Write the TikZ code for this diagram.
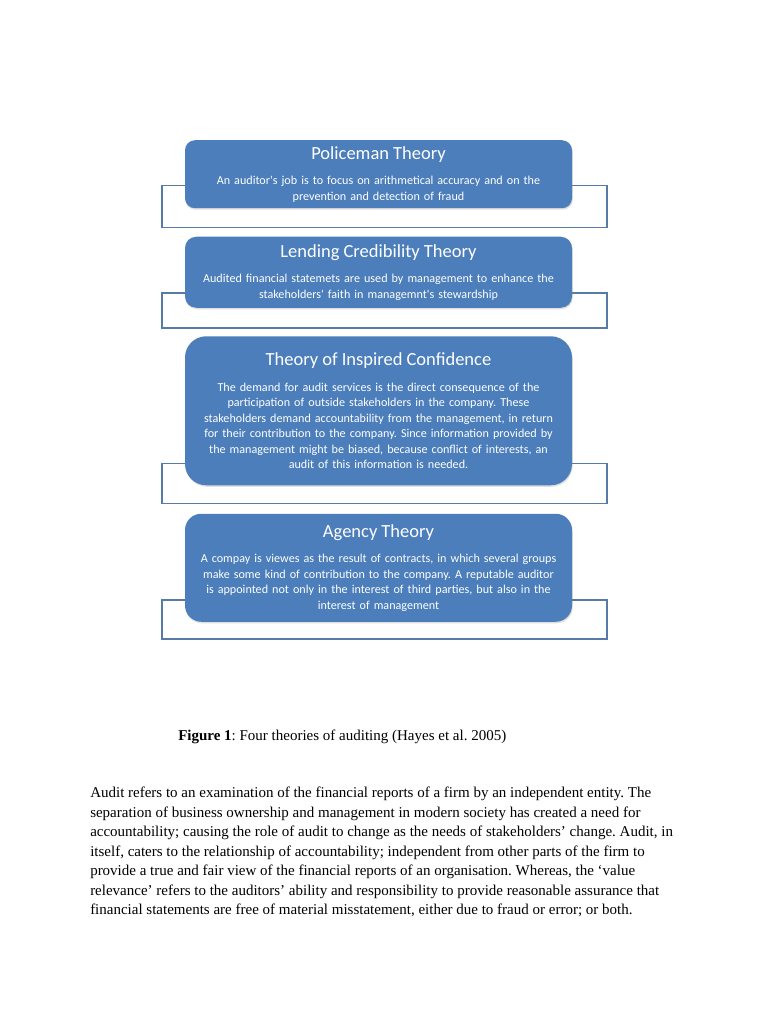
\documentclass[tikz,border=0pt]{standalone}
\usepackage{fontspec}
\setmainfont{Liberation Serif}
\newfontfamily\boxfont{Carlito}
\usetikzlibrary{positioning,calc,shadows}
\frenchspacing

\definecolor{theoryblue}{RGB}{75,126,187}
\definecolor{framegray}{RGB}{88,122,166}

\newcommand{\thtitle}[1]{{\fontsize{14.8}{16}\selectfont #1\par}\vspace{7.8pt}}

\begin{document}
\begin{tikzpicture}[
    x=0.8pt, y=-0.8pt,
    theory/.style={fill=theoryblue, text=white, align=center, text width=300pt,
        inner xsep=4.8pt, inner ysep=0pt,
        font=\boxfont\fontsize{9.7}{12.4}\selectfont,
        drop shadow={opacity=0.25, shadow xshift=0.6pt, shadow yshift=-1.2pt}},
    frame/.style={draw=framegray, line width=1.2pt},
    bodytext/.style={align=left, inner sep=0pt, font=\fontsize{12}{15.6}\selectfont}
]
\fill[white] (0,0) rectangle (768,1024);
\useasboundingbox (0,0) rectangle (768,1024);

% Theory boxes
\node[theory, anchor=north, minimum height=54.4pt, rounded corners=8pt] (police) at (378.5,140) {%
    \thtitle{Policeman Theory}
    An auditor's job is to focus on arithmetical accuracy and on the\\
    prevention and detection of fraud\par};
\node[theory, below=22.4pt of police, minimum height=56.8pt, rounded corners=9pt] (lending) {%
    \thtitle{Lending Credibility Theory}
    Audited financial statemets are used by management to enhance the\\
    stakeholders' faith in managemnt's stewardship\par};
\node[theory, below=22.4pt of lending, minimum height=119.2pt, rounded corners=17pt] (inspired) {%
    \thtitle{Theory of Inspired Confidence}
    The demand for audit services is the direct consequence of the\\
    participation of outside stakeholders in the company. These\\
    stakeholders demand accountability from the management, in return\\
    for their contribution to the company. Since information provided by\\
    the management might be biased, because conflict of interests, an\\
    audit of this information is needed.\par};
\node[theory, below=22.4pt of inspired, minimum height=86.4pt, rounded corners=13pt] (agency) {%
    \thtitle{Agency Theory}
    A compay is viewes as the result of contracts, in which several groups\\
    make some kind of contribution to the company. A reputable auditor\\
    is appointed not only in the interest of third parties, but also in the\\
    interest of management\par};

% Frames behind the boxes
\draw[frame] ($(police.south west)+(0,-23)$) -- ++(-23,0) -- ++(0,42) -- ++(445,0) -- ++(0,-42) -- ($(police.south east)+(0,-23)$);
\draw[frame] ($(lending.south west)+(0,-15)$) -- ++(-23,0) -- ++(0,35) -- ++(445,0) -- ++(0,-35) -- ($(lending.south east)+(0,-15)$);
\draw[frame] ($(inspired.south west)+(0,-22)$) -- ++(-23,0) -- ++(0,40) -- ++(445,0) -- ++(0,-40) -- ($(inspired.south east)+(0,-22)$);
\draw[frame] ($(agency.south west)+(0,-22)$) -- ++(-23,0) -- ++(0,39) -- ++(445,0) -- ++(0,-39) -- ($(agency.south east)+(0,-22)$);

% Caption and text
\node[bodytext, anchor=base west] (caption) at (178,740) {\textbf{Figure 1}: Four theories of auditing (Hayes et al. 2005)};
\node[bodytext, anchor=north west] (para) at (90,787) {%
    Audit refers to an examination of the financial reports of a firm by an independent entity. The\\
    separation of business ownership and management in modern society has created a need for\\
    accountability; causing the role of audit to change as the needs of stakeholders’ change. Audit, in\\
    itself, caters to the relationship of accountability; independent from other parts of the firm to\\
    provide a true and fair view of the financial reports of an organisation. Whereas, the ‘value\\
    relevance’ refers to the auditors’ ability and responsibility to provide reasonable assurance that\\
    financial statements are free of material misstatement, either due to fraud or error; or both.};

\end{tikzpicture}
\end{document}
